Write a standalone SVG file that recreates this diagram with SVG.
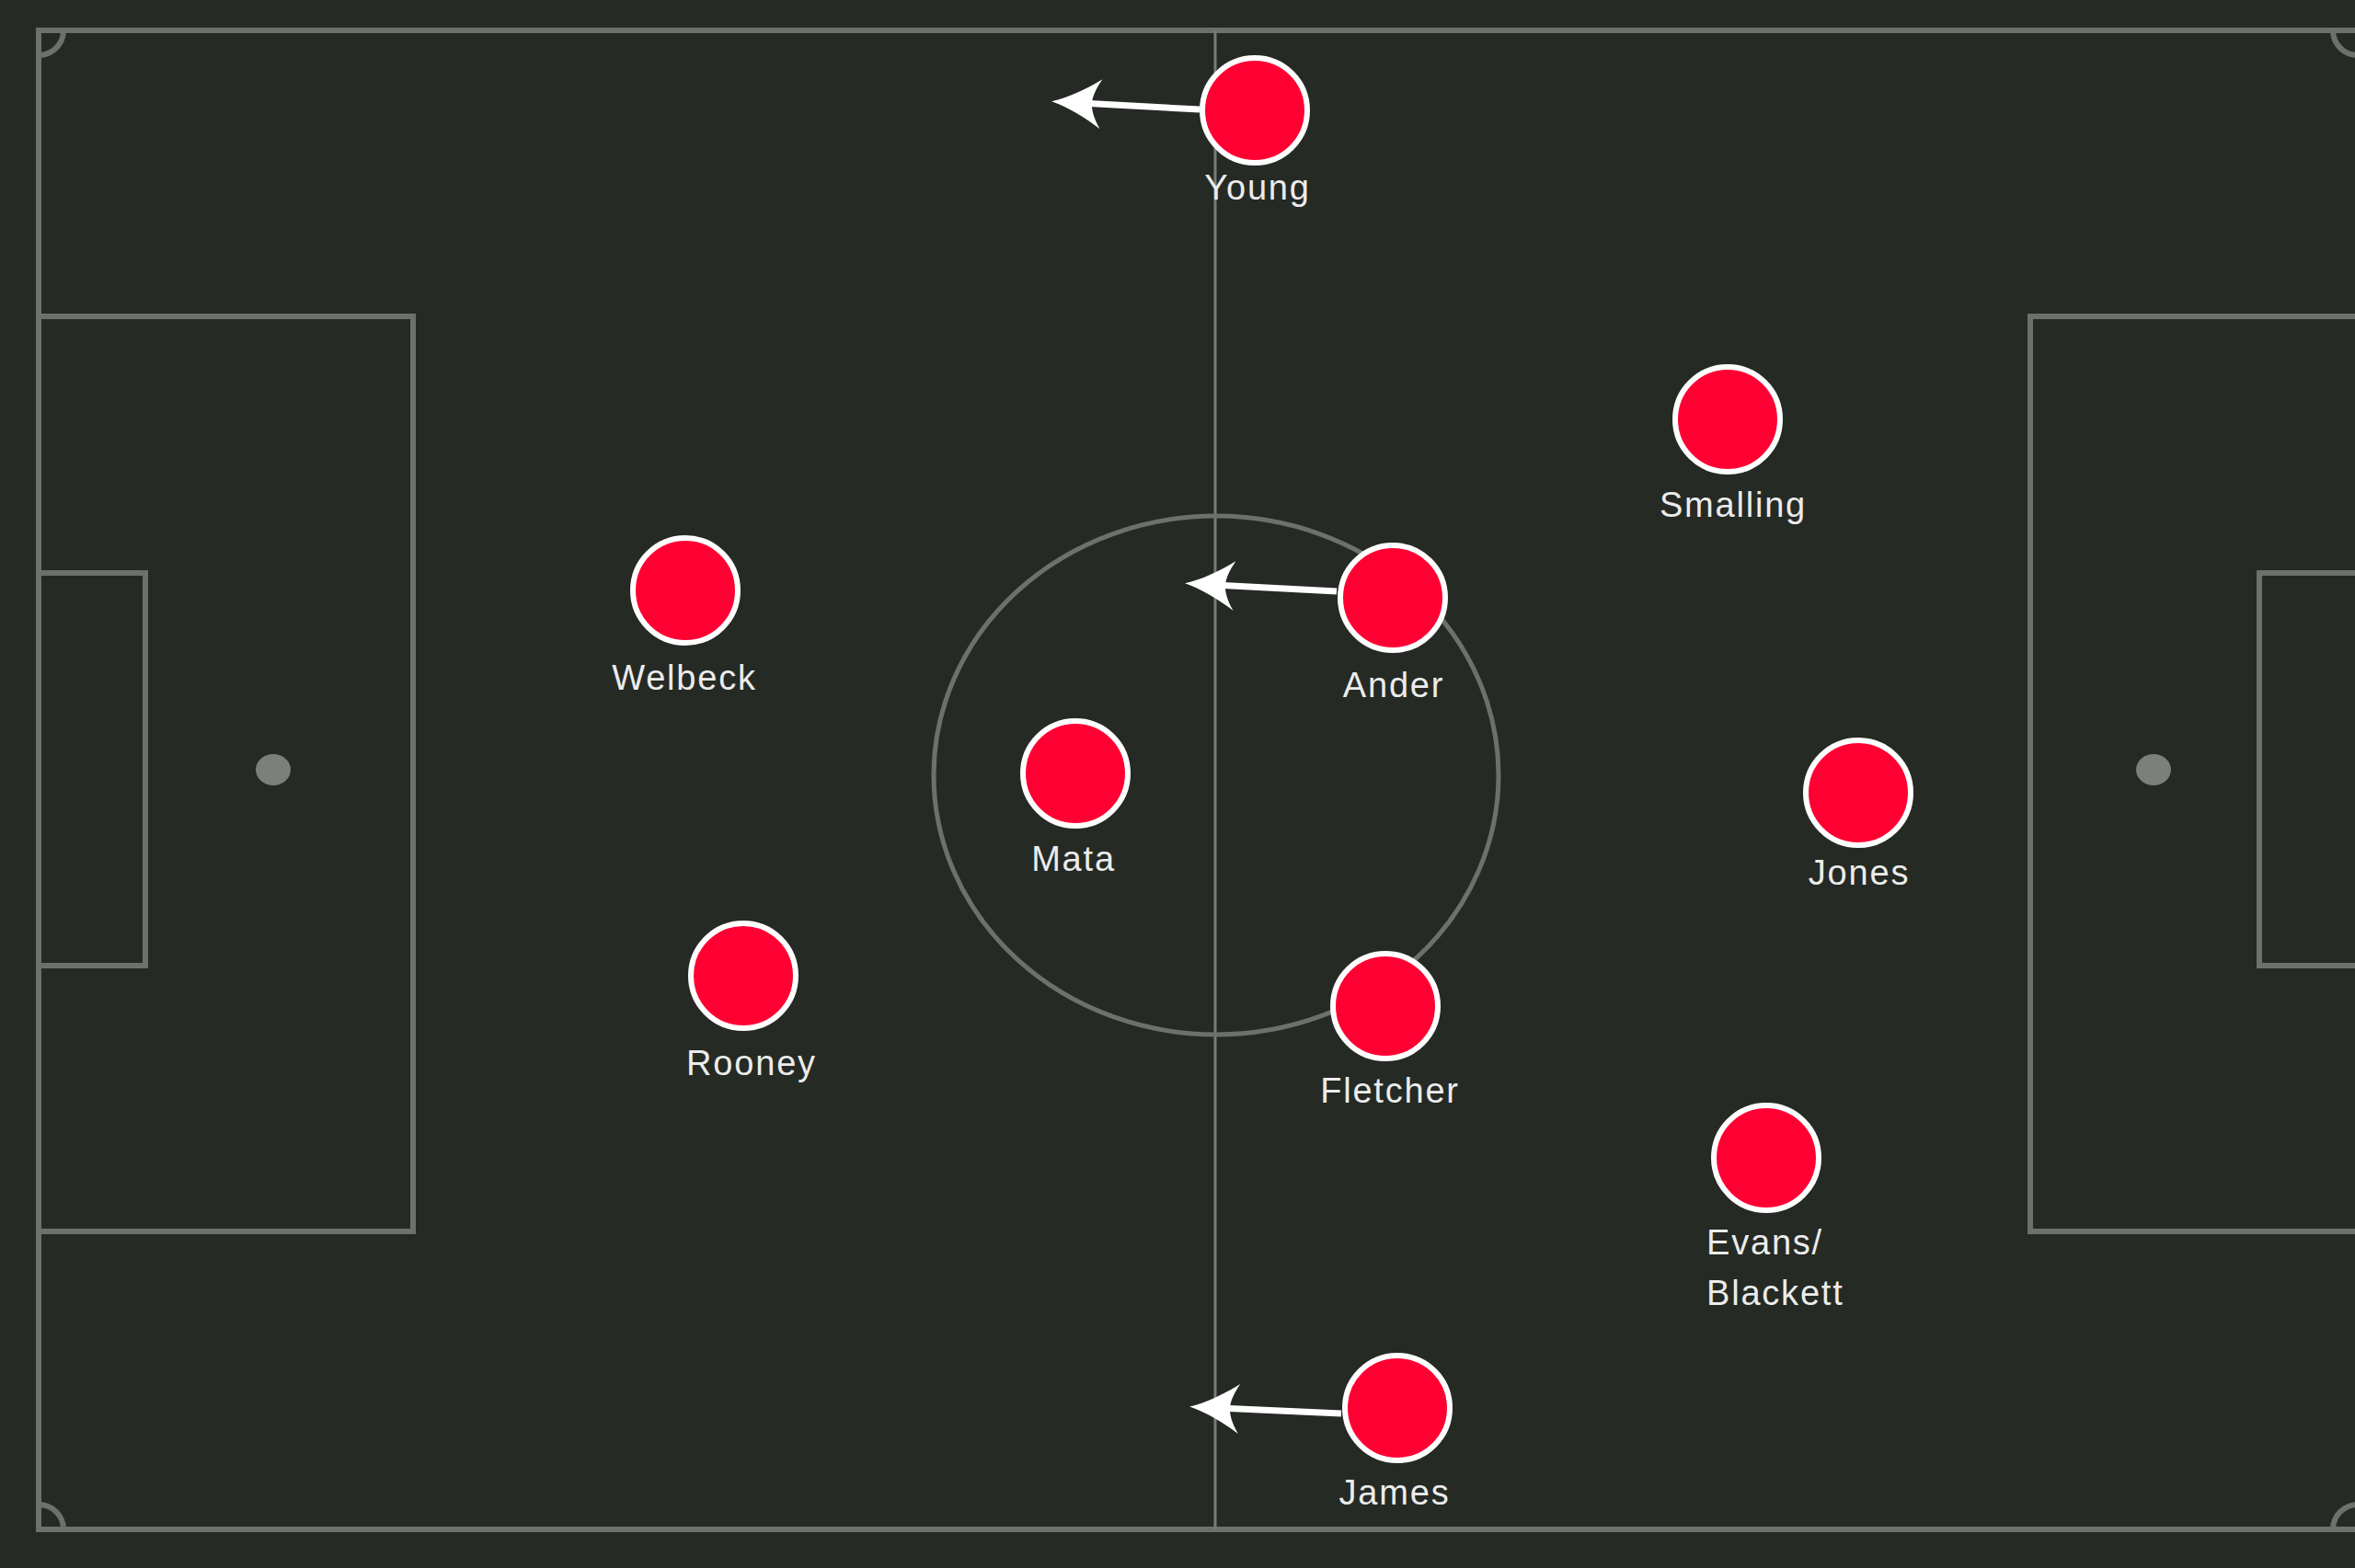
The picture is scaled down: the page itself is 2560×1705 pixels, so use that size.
<svg xmlns="http://www.w3.org/2000/svg" width="2560" height="1705" viewBox="0 0 2560 1705">
<defs>
<style>
.ln{fill:none;stroke:#6c716b;stroke-width:6}
.half{fill:none;stroke:#777c76;stroke-width:3}
.spot{fill:#7b807a}
.pl{fill:#ff0033;stroke:#ffffff;stroke-width:6}
.lb{font-family:"Liberation Sans",Arial,sans-serif;font-size:38px;fill:#ececec;text-anchor:middle;letter-spacing:1.8px}
.lbs{font-family:"Liberation Sans",Arial,sans-serif;font-size:38px;fill:#ececec;letter-spacing:1.8px}
.arr{fill:none;stroke:#ffffff;stroke-width:7;marker-end:url(#head)}
</style>
<marker id="head" markerUnits="userSpaceOnUse" viewBox="-30 -30 64 60" markerWidth="64" markerHeight="60" refX="0" refY="0" orient="auto">
<path d="M32,0 C14,-5 -6,-16 -22,-27 C-14,-14 -12,-6 -12,0 C-12,6 -14,14 -22,27 C-6,16 14,5 32,0 Z" fill="#ffffff"/>
</marker>
</defs>
<rect x="0" y="0" width="2560" height="1705" fill="#252a24"/>
<g id="pitch">
<rect class="ln" x="42" y="33" width="2530" height="1630"/>
<path class="ln" d="M42,60 A27,27 0 0 0 69,33"/>
<path class="ln" d="M42,1636 A27,27 0 0 1 69,1663"/>
<path class="ln" d="M2536,1663 A27,27 0 0 1 2563,1636"/>
<path class="ln" d="M2536,33 A27,27 0 0 0 2563,60"/>
<rect class="ln" x="42" y="344" width="407" height="995"/>
<rect class="ln" x="42" y="623" width="116" height="427"/>
<rect class="ln" x="2207" y="344" width="400" height="995"/>
<rect class="ln" x="2456" y="623" width="150" height="427"/>
<ellipse class="spot" cx="297" cy="837" rx="19" ry="17"/>
<ellipse class="spot" cx="2341" cy="837" rx="19" ry="17"/>
<line class="half" x1="1321" y1="33" x2="1321" y2="1663"/>
<ellipse class="ln" cx="1322" cy="843" rx="307" ry="282" style="stroke-width:5"/>
</g>
<g id="connectors">
<path class="arr" d="M1304,119 L1175,112"/>
<path class="arr" d="M1453,643 L1320,636"/>
<path class="arr" d="M1458,1537 L1325,1531"/>
</g>
<g id="young"><circle class="pl" cx="1364" cy="120" r="57"/><text class="lb" x="1367" y="217">Young</text></g>
<g id="smalling"><circle class="pl" cx="1878" cy="456" r="57"/><text class="lb" x="1884" y="562">Smalling</text></g>
<g id="welbeck"><circle class="pl" cx="745" cy="642" r="57"/><text class="lb" x="744" y="750">Welbeck</text></g>
<g id="ander"><circle class="pl" cx="1514" cy="650" r="57"/><text class="lb" x="1515" y="758">Ander</text></g>
<g id="mata"><circle class="pl" cx="1169" cy="841" r="57"/><text class="lb" x="1167" y="947">Mata</text></g>
<g id="jones"><circle class="pl" cx="2020" cy="862" r="57"/><text class="lb" x="2021" y="962">Jones</text></g>
<g id="rooney"><circle class="pl" cx="808" cy="1061" r="57"/><text class="lb" x="817" y="1169">Rooney</text></g>
<g id="fletcher"><circle class="pl" cx="1506" cy="1094" r="57"/><text class="lb" x="1511" y="1199">Fletcher</text></g>
<g id="evans"><circle class="pl" cx="1920" cy="1259" r="57"/><text class="lbs" x="1855" y="1364">Evans/</text><text class="lbs" x="1855" y="1419">Blackett</text></g>
<g id="james"><circle class="pl" cx="1519" cy="1531" r="57"/><text class="lb" x="1516" y="1636">James</text></g>
</svg>
